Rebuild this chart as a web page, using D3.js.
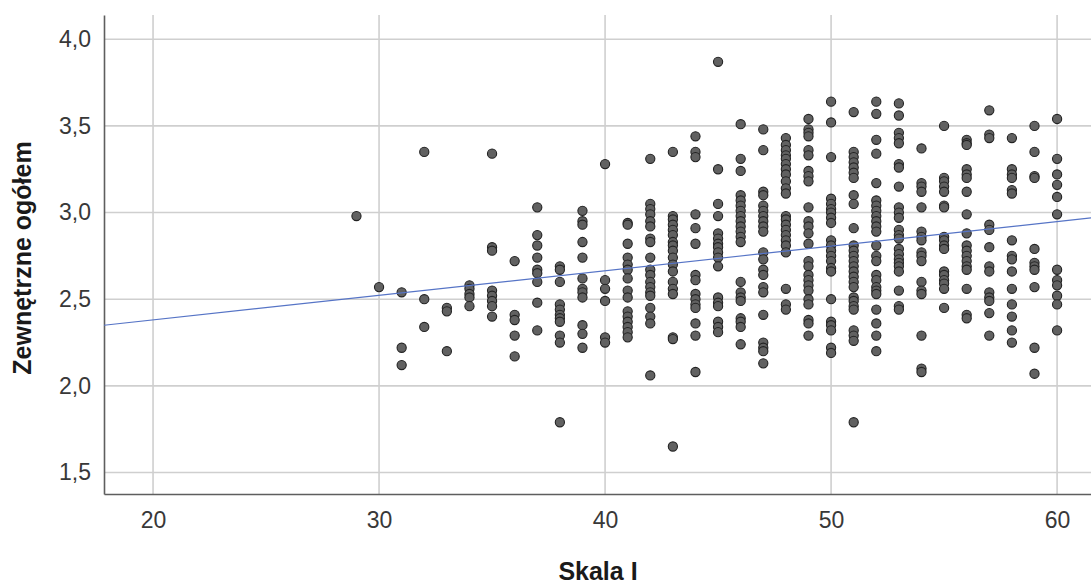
<!DOCTYPE html>
<html lang="pl">
<head>
<meta charset="utf-8">
<script src="https://cdn.jsdelivr.net/npm/d3@7"></script>
<style>
body { margin: 0; background: #fff; }
.title { font-family: "Liberation Sans", Arial, sans-serif; font-size: 25px; font-weight: bold; fill: #1a1a1a; }
</style>
</head>
<body>
<script>
// Skala I (x) columns and the Zewnętrzne ogółem values
var skalaCols = [29, 30, 31, 32, 33, 34, 35, 36, 37, 38, 39, 40, 41, 42, 43, 44,
                 45, 46, 47, 48, 49, 50, 51, 52, 53, 54, 55, 56, 57, 58, 59, 60];
var zewnetrzne = [
  [2.98],
  [2.57],
  [2.54, 2.22, 2.12],
  [3.35, 2.50, 2.34],
  [2.45, 2.43, 2.20],
  [2.58, 2.56, 2.53, 2.51, 2.46],
  [3.34, 2.80, 2.78, 2.55, 2.52, 2.49, 2.46, 2.40],
  [2.72, 2.41, 2.38, 2.29, 2.17],
  [3.03, 2.87, 2.81, 2.74, 2.67, 2.65, 2.60, 2.48, 2.32],
  [2.69, 2.67, 2.60, 2.47, 2.44, 2.41, 2.39, 2.37, 2.29, 2.25, 1.79],
  [3.01, 2.95, 2.93, 2.83, 2.74, 2.62, 2.56, 2.54, 2.51, 2.35, 2.30, 2.22],
  [3.28, 2.61, 2.56, 2.49, 2.28, 2.25],
  [2.94, 2.93, 2.82, 2.74, 2.70, 2.67, 2.62, 2.55, 2.51, 2.43, 2.40, 2.37, 2.34, 2.31, 2.28],
  [3.31, 3.05, 3.02, 2.99, 2.95, 2.92, 2.85, 2.83, 2.74, 2.67, 2.64, 2.60, 2.57, 2.54, 2.52, 2.45, 2.40, 2.36, 2.06],
  [3.35, 2.98, 2.96, 2.93, 2.90, 2.87, 2.83, 2.81, 2.78, 2.74, 2.70, 2.66, 2.60, 2.56, 2.53, 2.28, 2.27, 1.65],
  [3.44, 3.35, 3.32, 2.99, 2.91, 2.82, 2.64, 2.61, 2.53, 2.50, 2.47, 2.45, 2.36, 2.29, 2.08],
  [3.87, 3.25, 3.05, 2.98, 2.88, 2.85, 2.82, 2.80, 2.77, 2.74, 2.69, 2.51, 2.48, 2.46, 2.37, 2.34, 2.31],
  [3.51, 3.31, 3.24, 3.10, 3.07, 3.04, 3.01, 2.98, 2.95, 2.92, 2.89, 2.86, 2.83, 2.60, 2.54, 2.51, 2.49, 2.39, 2.37, 2.34, 2.24],
  [3.48, 3.36, 3.12, 3.10, 3.04, 3.01, 2.98, 2.95, 2.92, 2.89, 2.77, 2.73, 2.67, 2.64, 2.57, 2.54, 2.41, 2.25, 2.22, 2.20, 2.13],
  [3.43, 3.39, 3.36, 3.33, 3.31, 3.28, 3.25, 3.22, 3.18, 3.14, 3.11, 2.98, 2.96, 2.93, 2.90, 2.87, 2.84, 2.81, 2.77, 2.56, 2.47, 2.44],
  [3.54, 3.48, 3.46, 3.44, 3.36, 3.33, 3.24, 3.21, 3.18, 3.03, 2.95, 2.92, 2.88, 2.82, 2.72, 2.69, 2.64, 2.61, 2.58, 2.55, 2.50, 2.47, 2.38, 2.36, 2.29],
  [3.64, 3.52, 3.32, 3.08, 3.05, 3.02, 3.00, 2.97, 2.94, 2.84, 2.81, 2.78, 2.75, 2.72, 2.68, 2.66, 2.50, 2.37, 2.35, 2.32, 2.22, 2.19],
  [3.58, 3.35, 3.32, 3.29, 3.26, 3.23, 3.20, 3.10, 3.05, 2.91, 2.81, 2.78, 2.75, 2.72, 2.69, 2.66, 2.63, 2.60, 2.57, 2.51, 2.49, 2.46, 2.44, 2.32, 2.29, 2.26, 1.79],
  [3.64, 3.57, 3.42, 3.34, 3.17, 3.07, 3.04, 3.01, 2.98, 2.95, 2.92, 2.89, 2.81, 2.75, 2.72, 2.64, 2.61, 2.57, 2.55, 2.53, 2.44, 2.36, 2.29, 2.20],
  [3.63, 3.56, 3.46, 3.43, 3.40, 3.28, 3.26, 3.15, 3.03, 3.00, 2.97, 2.90, 2.87, 2.85, 2.79, 2.76, 2.73, 2.71, 2.69, 2.66, 2.55, 2.46, 2.44],
  [3.37, 3.17, 3.15, 3.12, 3.03, 2.89, 2.86, 2.84, 2.77, 2.75, 2.72, 2.60, 2.55, 2.53, 2.29, 2.10, 2.08],
  [3.50, 3.20, 3.18, 3.15, 3.12, 3.04, 3.03, 2.86, 2.84, 2.81, 2.79, 2.66, 2.64, 2.61, 2.59, 2.56, 2.45],
  [3.42, 3.40, 3.39, 3.25, 3.22, 3.20, 3.12, 2.99, 2.88, 2.81, 2.78, 2.75, 2.72, 2.69, 2.67, 2.56, 2.41, 2.39],
  [3.59, 3.45, 3.43, 2.93, 2.90, 2.80, 2.69, 2.66, 2.54, 2.51, 2.49, 2.42, 2.29],
  [3.43, 3.25, 3.22, 3.20, 3.13, 3.11, 2.84, 2.75, 2.73, 2.66, 2.56, 2.47, 2.40, 2.32, 2.25],
  [3.50, 3.35, 3.21, 3.20, 2.79, 2.71, 2.69, 2.67, 2.57, 2.22, 2.07],
  [3.54, 3.31, 3.22, 3.16, 3.09, 2.99, 2.67, 2.61, 2.58, 2.52, 2.47, 2.32]
];
var xTicks = [20, 30, 40, 50, 60];
var yTicks = [1.5, 2.0, 2.5, 3.0, 3.5, 4.0];
// fitted line: intercept, slope
var fitLine = [2.097, 0.01418];

var width = 1091, height = 586;
var margin = {left: 104, top: 15, right: 0, bottom: 92};

var svg = d3.select("body").append("svg")
    .attr("width", width)
    .attr("height", height);

var x = d3.scaleLinear().domain([17.83, 61.5]).range([margin.left, width - margin.right]);
var y = d3.scaleLinear().domain([1.376, 4.14]).range([height - margin.bottom, margin.top]);

var fmt = function(d) { return d3.format(".1f")(d).replace(".", ","); };

// grid lines
svg.append("g").selectAll("line").data(xTicks).enter().append("line")
    .attr("x1", d => x(d)).attr("x2", d => x(d))
    .attr("y1", margin.top).attr("y2", height - margin.bottom)
    .attr("stroke", "#cfcfcf").attr("stroke-width", 1.6);
svg.append("g").selectAll("line").data(yTicks).enter().append("line")
    .attr("x1", margin.left).attr("x2", width)
    .attr("y1", d => y(d)).attr("y2", d => y(d))
    .attr("stroke", "#cfcfcf").attr("stroke-width", 1.6);

// axes
var xAxis = svg.append("g")
    .attr("transform", "translate(0," + (height - margin.bottom) + ")")
    .call(d3.axisBottom(x).tickValues(xTicks).tickSize(0).tickPadding(18).tickFormat(d3.format("d")));
var yAxis = svg.append("g")
    .attr("transform", "translate(" + margin.left + ",0)")
    .call(d3.axisLeft(y).tickValues(yTicks).tickSize(0).tickPadding(13).tickFormat(fmt));

[xAxis, yAxis].forEach(function(a) {
  a.select(".domain").attr("stroke", "#5e5e5e").attr("stroke-width", 1.6);
  a.selectAll(".tick text")
    .attr("font-family", "'Liberation Sans', Arial, sans-serif")
    .attr("font-size", 23)
    .attr("fill", "#383838");
});

// points
var pts = [];
skalaCols.forEach(function(c, i) {
  zewnetrzne[i].forEach(function(v) { pts.push([c, v]); });
});

svg.append("g").selectAll("circle").data(pts).enter().append("circle")
    .attr("cx", d => x(d[0]))
    .attr("cy", d => y(d[1]))
    .attr("r", 4.6)
    .attr("fill", "#616161")
    .attr("stroke", "#222")
    .attr("stroke-width", 1.1);

// fit line
var xd = x.domain();
svg.append("line")
    .attr("x1", x(xd[0])).attr("y1", y(fitLine[0] + fitLine[1] * xd[0]))
    .attr("x2", x(xd[1])).attr("y2", y(fitLine[0] + fitLine[1] * xd[1]))
    .attr("stroke", "#5674c6").attr("stroke-width", 1.2);

// titles
svg.append("text").attr("class", "title")
    .attr("x", 598).attr("y", 580)
    .attr("text-anchor", "middle")
    .text("Skala I");
svg.append("text").attr("class", "title")
    .attr("transform", "translate(31,258) rotate(-90)")
    .attr("text-anchor", "middle")
    .text("Zewnętrzne ogółem");
</script>
</body>
</html>
